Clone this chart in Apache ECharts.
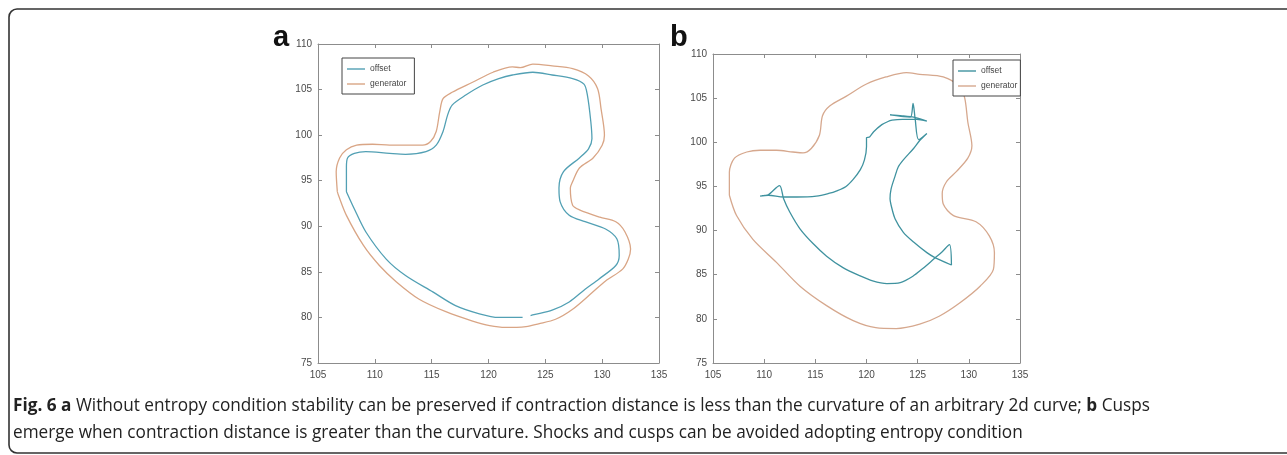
<!DOCTYPE html>
<html>
<head>
<meta charset="utf-8">
<script src="https://cdn.jsdelivr.net/npm/echarts@6/dist/echarts.min.js"></script>
<style>
  html, body { margin: 0; padding: 0; background: #fff; }
  #chart { width: 1287px; height: 455px; }
</style>
</head>
<body>
<div id="chart"></div>
<script>
// axis ticks (same for both panels)
const xTicks = [105, 110, 115, 120, 125, 130, 135];
const yTicks = [75, 80, 85, 90, 95, 100, 105, 110];
const legendNames = ['offset', 'generator'];

// panel a: generator curve, traced clockwise
const genA = [
  [106.7, 93.8], [106.6, 96.0], [106.9, 97.5], [107.5, 98.4], [108.4, 98.9], [109.8, 99.0],
  [111.3, 98.9], [114.2, 98.9], [114.9, 99.3], [115.4, 100.4], [115.7, 102.5], [116.0, 104.0],
  [116.8, 104.7], [118.6, 105.8], [120.4, 106.9], [122.1, 107.5], [122.8, 107.4], [123.9, 107.8],
  [125.6, 107.6], [127.4, 107.3], [128.8, 106.5], [129.6, 105.1], [129.9, 102.9], [130.2, 100.0],
  [130.0, 98.9], [129.2, 97.5], [128.0, 96.4], [127.4, 94.9], [127.2, 94.2], [127.4, 92.3],
  [128.0, 91.8], [129.8, 91.0], [131.2, 90.5], [132.0, 89.4], [132.5, 87.5], [132.3, 86.4],
  [131.8, 85.3], [130.3, 84.0], [129.1, 82.7], [127.4, 80.9], [125.9, 79.8], [124.4, 79.3],
  [123.3, 79.0], [121.5, 78.9], [120.1, 79.1], [118.6, 79.6], [116.3, 80.6], [113.9, 82.0],
  [111.9, 83.9], [110.4, 85.7], [109.0, 87.9], [107.5, 91.2], [106.8, 93.4], [106.7, 93.8]
];

// panel a: offset curve (small break near the bottom)
const offA = [
  [107.5, 93.8], [107.5, 96.5], [107.6, 97.5], [108.2, 98.0], [109.2, 98.2], [111.3, 98.0],
  [112.7, 97.9], [114.5, 98.2], [115.4, 98.9], [116.0, 100.4], [116.4, 102.2], [116.8, 103.3],
  [118.0, 104.4], [119.5, 105.5], [120.9, 106.2], [122.1, 106.6], [123.9, 106.9], [125.6, 106.6],
  [127.4, 106.2], [128.4, 105.6], [128.7, 104.4], [129.0, 101.5], [129.1, 99.6], [128.8, 98.5],
  [128.0, 97.5], [126.6, 96.0], [126.2, 94.2], [126.3, 92.7], [127.1, 91.2], [128.5, 90.5],
  [130.3, 89.7], [131.3, 88.6], [131.5, 86.8], [131.2, 85.7], [129.7, 84.2], [128.5, 83.1],
  [127.1, 81.7], [125.6, 80.8], [124.0, 80.3], [123.7, 80.2], [123.35, '-'], [123.0, 80.0],
  [120.9, 80.0], [119.2, 80.4], [117.1, 81.3], [115.1, 82.8], [112.7, 84.6], [111.0, 86.4],
  [109.2, 89.4], [108.2, 91.9], [107.5, 93.8]
];

// panel b: generator curve
const genB = [
  [106.6, 94.0], [106.6, 96.6], [107.1, 98.2], [108.3, 98.9], [109.6, 99.1], [111.2, 99.1],
  [112.8, 98.9], [113.8, 98.8], [114.6, 99.3], [115.4, 100.8], [115.7, 103.0], [116.4, 104.1],
  [118.0, 105.2], [120.0, 106.6], [121.9, 107.4], [123.9, 107.9], [125.2, 107.7], [127.5, 107.4],
  [129.1, 106.3], [129.6, 105.0], [129.9, 102.3], [130.3, 99.6], [129.9, 98.2], [128.8, 96.7],
  [127.8, 95.5], [127.4, 94.2], [127.5, 93.0], [128.5, 91.7], [130.7, 91.0], [132.0, 89.4],
  [132.5, 87.5], [132.4, 85.6], [131.1, 83.7], [129.1, 81.8], [127.1, 80.3], [125.2, 79.4],
  [122.9, 78.9], [120.9, 79.0], [118.7, 79.8], [116.1, 81.5], [113.5, 83.7], [111.2, 86.4],
  [108.9, 89.0], [107.3, 91.7], [106.6, 94.0]
];

// panel b: offset curve with cusps / swallowtails
const offB = [
  [109.6, 93.9], [110.4, 94.0], [111.9, 93.8], [113.2, 93.8], [115.1, 93.9], [116.3, 94.2],
  [117.1, 94.5], [118.0, 95.0], [118.7, 95.8], [119.4, 96.9], [119.8, 98.0], [120.0, 99.5],
  [120.0, 100.5], [120.3, 100.6], [120.7, 101.2], [121.5, 102.0], [122.0, 102.3], [122.5, 102.5],
  [123.5, 102.6], [124.9, 102.6], [125.9, 102.4], [124.8, 102.8], [123.5, 103.0], [122.3, 103.1],
  [123.6, 102.9], [124.3, 102.85], [124.55, 104.4], [124.75, 102.7], [125.1, 100.3], [125.9, 101.0],
  [125.2, 100.2], [124.6, 99.3], [123.6, 98.0], [123.1, 97.2], [122.8, 96.2], [122.4, 94.7],
  [122.3, 93.6], [122.4, 92.9], [122.8, 91.3], [123.6, 89.8], [124.6, 88.7], [125.9, 87.5],
  [126.6, 87.0], [128.3, 86.1], [128.1, 88.4], [127.4, 87.6], [126.6, 86.8], [125.5, 85.7],
  [124.5, 84.8], [123.3, 84.1], [122.0, 84.0], [120.6, 84.3], [119.3, 84.9], [117.7, 85.8],
  [116.1, 87.1], [114.8, 88.5], [113.5, 90.2], [112.5, 92.1], [111.9, 93.6], [111.5, 95.1],
  [110.4, 94.05], [109.8, 93.95]
];

// caption text
const captionLine1 = [
  { text: 'Fig. 6 a', bold: true },
  { text: ' Without entropy condition stability can be preserved if contraction distance is less than the curvature of an arbitrary 2d curve; ' },
  { text: 'b', bold: true },
  { text: ' Cusps' }
];
const captionLine2 = [
  { text: 'emerge when contraction distance is greater than the curvature. Shocks and cusps can be avoided adopting entropy condition' }
];

const axisGray = '#8c8c8c';
const labelFont = '"Liberation Sans", Arial, sans-serif';
const captionFont = '"Open Sans", "Noto Sans", sans-serif';
const captionSize = 17.5;
const offColor = '#52a0b4';
const genColor = '#d9a585';

const chart = echarts.init(document.getElementById('chart'), null, { renderer: 'canvas' });

// axes helpers
const xAxisFor = (gridIndex, position) => ({
  type: 'value', gridIndex, position,
  min: xTicks[0], max: xTicks[xTicks.length - 1], interval: xTicks[1] - xTicks[0],
  axisLine: { lineStyle: { color: axisGray, width: 1 } },
  axisTick: { show: true, inside: true, length: 4, lineStyle: { color: axisGray } },
  axisLabel: {
    show: position === 'bottom', margin: 7, fontSize: 10,
    fontFamily: labelFont, color: '#4a4a4a', showMinLabel: true, showMaxLabel: true
  },
  splitLine: { show: false }
});
const yAxisFor = (gridIndex, position) => ({
  type: 'value', gridIndex, position,
  min: yTicks[0], max: yTicks[yTicks.length - 1], interval: yTicks[1] - yTicks[0],
  axisLine: { lineStyle: { color: axisGray, width: 1 } },
  axisTick: { show: true, inside: true, length: 4, lineStyle: { color: axisGray } },
  axisLabel: {
    show: position === 'left', margin: 6, fontSize: 10,
    fontFamily: labelFont, color: '#4a4a4a', showMinLabel: true, showMaxLabel: true
  },
  splitLine: { show: false }
});

const lineSeries = (name, data, xi, yi, color) => ({
  name, type: 'line', data, xAxisIndex: xi, yAxisIndex: yi,
  symbol: 'none', smooth: 0.3, connectNulls: false,
  lineStyle: { color, width: 1.3 }, itemStyle: { color },
  animation: false, silent: true
});

// legend drawn as a thin line sample + label inside a box
const legendFor = (left, top, colors, padRight) => ({
  left, top, orient: 'vertical',
  data: legendNames.map((name, i) => ({ name, itemStyle: { color: colors[i] } })),
  icon: 'rect',
  backgroundColor: '#fff',
  borderColor: '#444', borderWidth: 1, borderRadius: 0,
  padding: [6, padRight, 5, 5],
  itemWidth: 18, itemHeight: 1.4, itemGap: 5,
  textStyle: { fontSize: 8.5, lineHeight: 10, fontFamily: labelFont, color: '#444' },
  selectedMode: false
});

// measure caption so that it spans the same width as the reference
const mctx = document.createElement('canvas').getContext('2d');
const textWidth = (parts) => parts.reduce((w, p) => {
  mctx.font = (p.bold ? 'bold ' : '') + captionSize + 'px ' + captionFont;
  return w + mctx.measureText(p.text).width;
}, 0);
const captionScale = 1137 / textWidth(captionLine1);
const toRich = (parts) => parts.map(p => p.bold ? '{b|' + p.text + '}' : p.text).join('');

const captionText = (parts, y) => ({
  type: 'text', x: 13, y, scaleX: captionScale, silent: true,
  style: {
    text: toRich(parts), x: 0, y: 0,
    fontSize: captionSize, fontFamily: captionFont, fill: '#222',
    verticalAlign: 'middle', align: 'left',
    rich: { b: { fontWeight: 'bold', fontSize: captionSize, fontFamily: captionFont, fill: '#222' } }
  }
});

const option = {
  backgroundColor: '#fff',
  animation: false,
  grid: [
    { left: 318, top: 44, width: 341, height: 319 },
    { left: 713, top: 54, width: 307, height: 309 }
  ],
  xAxis: [xAxisFor(0, 'bottom'), xAxisFor(0, 'top'), xAxisFor(1, 'bottom'), xAxisFor(1, 'top')],
  yAxis: [yAxisFor(0, 'left'), yAxisFor(0, 'right'), yAxisFor(1, 'left'), yAxisFor(1, 'right')],
  legend: [
    legendFor(342, 58, [offColor, genColor], 8),
    legendFor(953, 60, ['#3f929f', '#d6a88e'], 3)
  ],
  series: [
    lineSeries('offset', offA, 0, 0, offColor),
    lineSeries('generator', genA, 0, 0, genColor),
    lineSeries('offset', offB, 2, 2, '#3f929f'),
    lineSeries('generator', genB, 2, 2, '#d6a88e')
  ],
  graphic: [
    // outer frame
    {
      type: 'rect', silent: true,
      shape: { x: 9, y: 9, width: 1300, height: 444, r: 8 },
      style: { fill: 'none', stroke: '#333', lineWidth: 1.6 }
    },
    // panel letters
    {
      type: 'text', x: 273, y: 38, silent: true,
      style: { text: 'a', fontSize: 29, fontWeight: 'bold', fontFamily: labelFont, fill: '#111', verticalAlign: 'middle' }
    },
    {
      type: 'text', x: 670, y: 38, silent: true,
      style: { text: 'b', fontSize: 29, fontWeight: 'bold', fontFamily: labelFont, fill: '#111', verticalAlign: 'middle' }
    },
    captionText(captionLine1, 406),
    captionText(captionLine2, 433)
  ]
};

chart.setOption(option);
</script>
</body>
</html>
